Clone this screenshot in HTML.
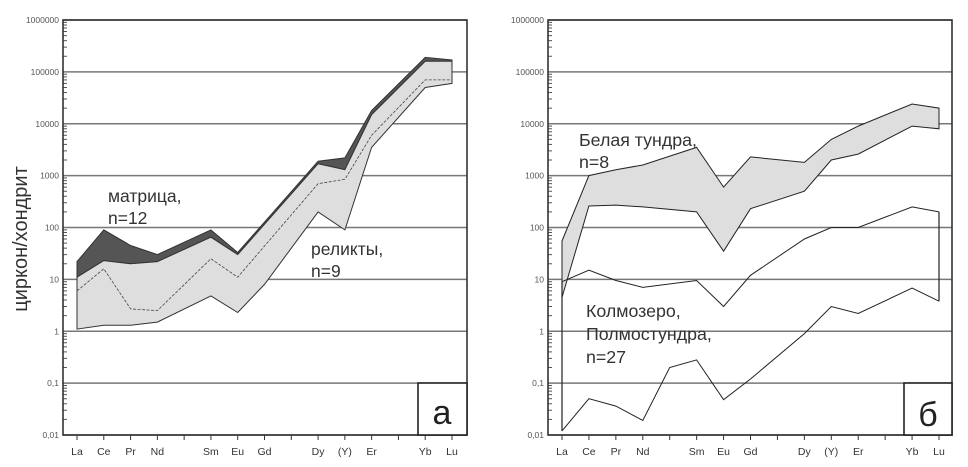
<!DOCTYPE html>
<html><head><meta charset="utf-8"><style>
html,body{margin:0;padding:0;background:#fff;}
svg{display:block;font-family:"Liberation Sans","DejaVu Sans",sans-serif;}
</style></head><body>
<svg id="c" width="968" height="467" viewBox="0 0 968 467"></svg>
<script>
const elements = ["La","Ce","Pr","Nd","","Sm","Eu","Gd","","Dy","(Y)","Er","","Yb","Lu"];
const yTicks = [1000000,100000,10000,1000,100,10,1,0.1,0.01];
const yTickLabels = ["1000000","100000","10000","1000","100","10","1","0,1","0,01"];
// panel a (index in elements, value)
const aIdx = [0,1,2,3,5,6,9,10,11,13,14];
const matrixUpper = [22,90,45,30,90,33,1900,2200,18000,190000,170000];
const relictUpper = [11,23,20,22,65,30,1700,1300,15000,160000,160000];
const aLowIdx = [0,1,2,3,5,6,7,9,10,11,13,14];
const relictLower = [1.1,1.3,1.3,1.5,4.8,2.3,8,200,90,3500,50000,60000];
const dashedMid = [6,16,2.7,2.5,25,11,700,850,6000,70000,70000];
// panel b
const bIdx = [0,1,2,3,5,6,7,9,10,11,13,14];
const belUpper = [55,1000,1300,1600,3500,600,2300,1800,5000,9000,24000,20000];
const belLower = [4.5,260,270,250,200,35,230,500,2000,2600,9000,8000];
const kolUpper = [9,15,9.5,7,9.5,3,12,60,100,100,250,200];
const kolLowIdx = [0,1,2,3,4,5,6,7,9,10,11,13,14];
const kolLower = [0.012,0.05,0.036,0.019,0.2,0.28,0.048,0.12,0.9,3,2.2,6.8,3.8];

const NS="http://www.w3.org/2000/svg";
const svg=document.getElementById('c');
function mk(t,a,p){const e=document.createElementNS(NS,t);for(const k in a)e.setAttribute(k,a[k]);(p||svg).appendChild(e);return e;}
const yTop=20,yBot=435;
function Y(v){return yBot-(Math.log10(v)+2)/8*(yBot-yTop);}
function panel(x0,x1,xLa,xLu,name){
  const g=mk('g',{});
  
  
  const X=i=>xLa+i*(xLu-xLa)/14;
  yTicks.forEach((v,i)=>{
    const y=Y(v);
    const l=mk('line',{x1:x0,x2:x1,y1:y,y2:y,stroke:'#777','stroke-width':1.6},g);
    
    
    const t=mk('text',{x:x0-4,y:y+3,'text-anchor':'end','font-size':8.5,fill:'#555'},g);
    t.textContent=yTickLabels[i];
    
    
    if(i<yTicks.length-1){for(let m=2;m<=9;m++){const ym=Y(yTicks[i+1]*m);mk('line',{x1:x0,x2:x0+4,y1:ym,y2:ym,stroke:'#555','stroke-width':1},g);}}
  });
  elements.forEach((e,i)=>{
    const x=X(i);
    mk('line',{x1:x,x2:x,y1:yBot,y2:yBot+5,stroke:'#333','stroke-width':1},g);
    if(e){const t=mk('text',{x:x,y:yBot+20,'text-anchor':'middle','font-size':10.5,fill:'#333'},g);t.textContent=e;
    
    }
  });
  return {g,X};
}
function pts(X,idx,vals){return idx.map((k,i)=>X(k).toFixed(1)+','+Y(vals[i]).toFixed(1));}

// Panel a
let A=panel(63,467,77,452,'panel-a');
let up=pts(A.X,aIdx,matrixUpper), ru=pts(A.X,aIdx,relictUpper), rl=pts(A.X,aLowIdx,relictLower);
let p=mk('polygon',{points:up.concat(ru.slice().reverse()).join(' '),fill:'#555',stroke:'#333','stroke-width':1},A.g);


p=mk('polygon',{points:ru.concat(rl.slice().reverse()).join(' '),fill:'#dedede',stroke:'#333','stroke-width':1},A.g);


p=mk('polyline',{points:pts(A.X,aIdx,dashedMid).join(' '),fill:'none',stroke:'#444','stroke-width':0.8,'stroke-dasharray':'3,1.5'},A.g);


mk('rect',{x:63,y:20,width:404,height:415,fill:'none',stroke:'#333','stroke-width':1.6},A.g);
mk('rect',{x:418,y:383,width:49,height:52,fill:'#fff',stroke:'#222','stroke-width':1.6},A.g);
let t=mk('text',{x:442,y:424,'text-anchor':'middle','font-size':34,fill:'#222'},A.g);t.textContent='а';

t=mk('text',{x:108,y:202,'font-size':17.5,fill:'#333'},A.g);t.textContent='матрица,';

t=mk('text',{x:108,y:224,'font-size':17.5,fill:'#333'},A.g);t.textContent='n=12';

t=mk('text',{x:311,y:255,'font-size':17.5,fill:'#333'},A.g);t.textContent='реликты,';

t=mk('text',{x:311,y:277,'font-size':17.5,fill:'#333'},A.g);t.textContent='n=9';

t=mk('text',{x:0,y:0,'font-size':20,fill:'#333','text-anchor':'middle',transform:'translate(27,239) rotate(-90)'});t.textContent='циркон/хондрит';


// Panel b
let B=panel(548,952,562,939,'panel-b');
let bu=pts(B.X,bIdx,belUpper), bl=pts(B.X,bIdx,belLower);
p=mk('polygon',{points:bu.concat(bl.slice().reverse()).join(' '),fill:'#dedede',stroke:'#222','stroke-width':1},B.g);


let ku=pts(B.X,bIdx,kolUpper), kl=pts(B.X,kolLowIdx,kolLower);
p=mk('polyline',{points:ku.join(' '),fill:'none',stroke:'#222','stroke-width':1},B.g);


p=mk('polyline',{points:kl.join(' '),fill:'none',stroke:'#222','stroke-width':1},B.g);


mk('line',{x1:B.X(0),x2:B.X(0),y1:Y(kolLower[0]),y2:Y(kolUpper[0]),stroke:'#222','stroke-width':1.2},B.g);
mk('line',{x1:B.X(14),x2:B.X(14),y1:Y(kolLower[kolLower.length-1]),y2:Y(kolUpper[kolUpper.length-1]),stroke:'#222','stroke-width':1.2},B.g);
mk('rect',{x:548,y:20,width:404,height:415,fill:'none',stroke:'#333','stroke-width':1.6},B.g);
mk('rect',{x:904,y:383,width:48,height:52,fill:'#fff',stroke:'#222','stroke-width':1.6},B.g);
t=mk('text',{x:928,y:426,'text-anchor':'middle','font-size':34,fill:'#222'},B.g);t.textContent='б';

[['Белая тундра,',146,'belaya-label'],['n=8',168,'belaya-n']].forEach(a=>{const e=mk('text',{x:579,y:a[1],'font-size':17.8,fill:'#333'},B.g);e.textContent=a[0];});
[['Колмозеро,',317,'kolmozero-label'],['Полмостундра,',340,'polmostundra-label'],['n=27',363,'kolmozero-n']].forEach(a=>{const e=mk('text',{x:586,y:a[1],'font-size':17.8,fill:'#333'},B.g);e.textContent=a[0];});
</script>
</body></html>
